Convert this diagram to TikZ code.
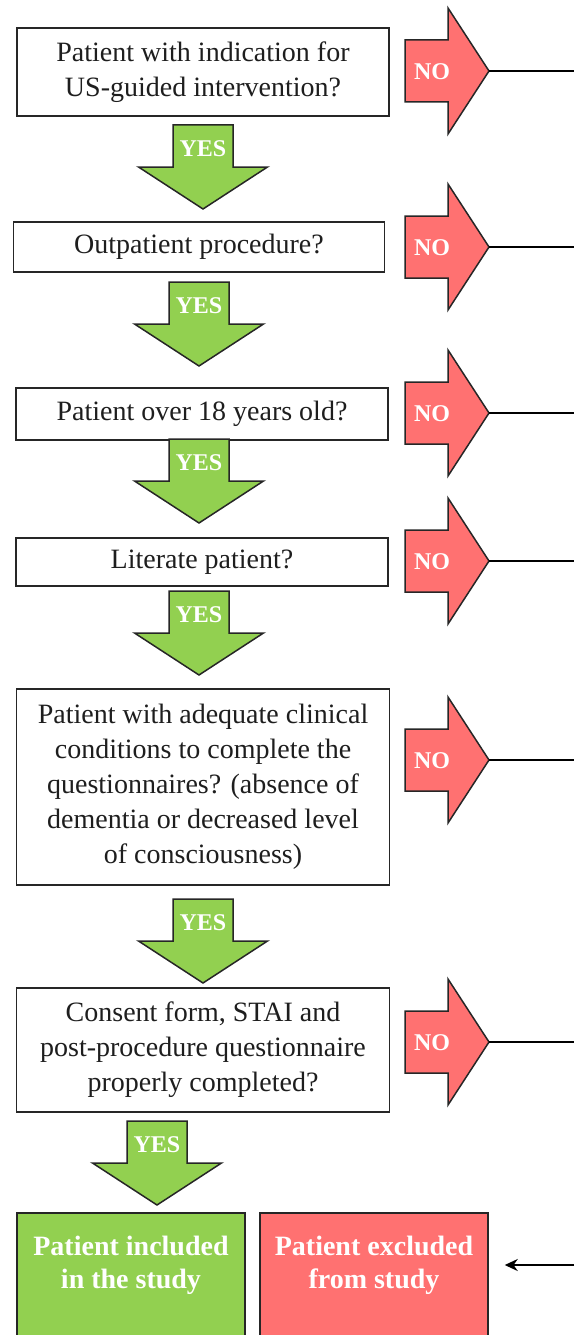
\documentclass[tikz,border=0pt]{standalone}
\usepackage{fontspec}
\setmainfont{LiberationSerif}[Extension=.ttf, UprightFont=*-Regular, BoldFont=*-Bold, ItalicFont=*-Italic, BoldItalicFont=*-BoldItalic]
\usetikzlibrary{arrows.meta}
\definecolor{okgreen}{HTML}{92D050}
\definecolor{nored}{HTML}{FF7171}
\definecolor{bordc}{HTML}{262626}
\definecolor{txtc}{HTML}{1E1E1E}
\begin{document}
\begin{tikzpicture}[x=1pt,y=-1pt,
  qbox/.style={draw=bordc, line width=1.5pt, fill=white, text=txtc, align=center,
    font=\fontsize{28}{35}\selectfont, inner sep=0pt},
  endbox/.style={draw=bordc, line width=1.5pt, text=white, align=center,
    font=\fontsize{28}{33}\selectfont\bfseries, inner sep=0pt},
  lbl/.style={text=white, font=\fontsize{24}{24}\selectfont\bfseries, inner sep=0pt},
  noarrow/.pic={
    \draw[draw=bordc, line width=1.5pt, fill=nored, line join=miter]
      (-84,-31) -- (-41,-31) -- (-41,-63) -- (0,0) -- (-41,63) -- (-41,31) -- (-84,31) -- cycle;
    \node[lbl] (-lbl) at (-57,1) {NO};
    \coordinate (-tip) at (0,0);
  },
  yesarrow/.pic={
    \draw[draw=bordc, line width=1.5pt, fill=okgreen, line join=miter]
      (-30,-84) -- (30,-84) -- (30,-42) -- (64.5,-42) -- (0,0) -- (-64.5,-42) -- (-30,-42) -- cycle;
    \node[lbl] (-lbl) at (0,-60) {YES};
    \coordinate (-tip) at (0,0);
  },
  link/.style={draw=black, line width=2pt},
]
\useasboundingbox (0,0) rectangle (574,1335);
\clip (0,0) rectangle (574,1335);
\coordinate (rim) at (574,0);

% question boxes
\node[qbox, minimum width=372pt, minimum height=88pt] (q1) at (203,72)
  {Patient with indication for\\US-guided intervention?};
\node[qbox, minimum width=371pt, minimum height=50pt] (q2) at (199,247)
  {Outpatient procedure?};
\node[qbox, minimum width=372pt, minimum height=52pt] (q3) at (202,414)
  {Patient over 18 years old?};
\node[qbox, minimum width=372pt, minimum height=48pt] (q4) at (202,562)
  {Literate patient?};
\node[qbox, minimum width=373pt, minimum height=196pt] (q5) at (203,787)
  {Patient with adequate clinical\\conditions to complete the\\questionnaires? (absence of\\dementia or decreased level\\of consciousness)};
\node[qbox, minimum width=373pt, minimum height=124pt] (q6) at (203,1050)
  {Consent form, STAI and\\post-procedure questionnaire\\properly completed?};

% end boxes
\node[endbox, fill=okgreen, minimum width=228pt, minimum height=150pt] (inc) at (131,1288)
  {Patient included\\in the study\\[18pt]\mbox{}};
\node[endbox, fill=nored, minimum width=228pt, minimum height=150pt] (exc) at (374,1288)
  {Patient excluded\\from study\\[18pt]\mbox{}};

% YES arrows
\pic (y1) at (203,209) {yesarrow};
\pic (y2) at (199,366) {yesarrow};
\pic (y3) at (199,523) {yesarrow};
\pic (y4) at (199,675) {yesarrow};
\pic (y5) at (203,983) {yesarrow};
\pic (y6) at (157,1205) {yesarrow};

% NO arrows
\pic (n1) at (489,71) {noarrow};
\pic (n2) at (489,247) {noarrow};
\pic (n3) at (489,413) {noarrow};
\pic (n4) at (489,561) {noarrow};
\pic (n5) at (489,760) {noarrow};
\pic (n6) at (489,1042) {noarrow};

% connectors to the right edge
\foreach \k in {1,...,6} {
  \draw[link] (n\k-tip) -- (n\k-tip -| rim);
}
\coordinate (back) at (574,1265);
\draw[link, -{Stealth[length=13pt,width=12pt]}, shorten >=16pt] (back) -- (back -| exc.east);
\end{tikzpicture}
\end{document}
